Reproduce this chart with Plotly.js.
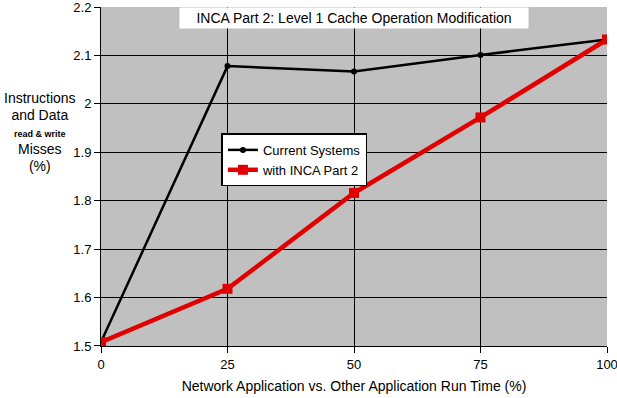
<!DOCTYPE html>
<html><head><meta charset="utf-8">
<script src="https://cdn.plot.ly/plotly-3.0.1.min.js"></script>
<style>body{margin:0;background:#fff}#c{width:617px;height:398px}</style>
</head><body><div id="c"></div>
<script>
var runTime = [0, 25, 50, 75, 100];
var currentSystems = [1.508, 2.078, 2.067, 2.101, 2.133];
var withInca = [1.508, 1.618, 1.816, 1.972, 2.133];
var yTicks = [1.5, 1.6, 1.7, 1.8, 1.9, 2, 2.1, 2.2];
var xTicks = [0, 25, 50, 75, 100];

var F = 'Liberation Sans, Arial, sans-serif';
var traces = [
  {x: runTime, y: currentSystems, mode: 'lines+markers', name: 'Current Systems',
   line: {color: '#000', width: 2.5}, marker: {color: '#000', size: 6, symbol: 'circle'}},
  {x: runTime, y: withInca, mode: 'lines+markers', name: 'with INCA Part 2',
   line: {color: '#e00000', width: 4.5}, marker: {color: '#e00000', size: 10, symbol: 'square'}}
];
var layout = {
  width: 617, height: 398,
  margin: {l: 101, r: 10, t: 7, b: 52},
  paper_bgcolor: '#fff', plot_bgcolor: '#c0c0c0',
  font: {family: F, size: 13, color: '#000'},
  showlegend: true,
  legend: {x: 0.238, y: 0.627, xanchor: 'left', yanchor: 'top', bgcolor: '#fff',
           bordercolor: '#000', borderwidth: 1.5, font: {size: 13},
           tracegroupgap: 0, itemwidth: 30},
  xaxis: {range: [-0.0001, 100.0001], tickvals: xTicks, ticks: 'outside', ticklen: 6, tickcolor: '#000',
          showline: true, linecolor: '#000', linewidth: 1, showgrid: true, gridcolor: '#000',
          gridwidth: 1, zeroline: false, tickfont: {size: 13}, ticklabeloverflow: 'allow',
          automargin: false,
          title: {text: 'Network Application vs. Other Application Run Time (%)', font: {size: 14}, standoff: 10}},
  yaxis: {range: [1.4999, 2.2001], tickvals: yTicks, ticktext: yTicks.map(String), ticks: 'outside', ticklen: 6,
          tickcolor: '#000', showline: true, linecolor: '#000', linewidth: 1, showgrid: true,
          gridcolor: '#000', gridwidth: 1, zeroline: false, tickfont: {size: 13}, ticklabeloverflow: 'allow',
          automargin: false},
  annotations: [
    {xref: 'paper', yref: 'paper', x: 0.5, y: 1, xanchor: 'center', yanchor: 'top', yshift: 0,
     text: 'INCA Part 2: Level 1 Cache Operation Modification', showarrow: false,
     bgcolor: '#fff', borderpad: 2, font: {size: 14}, width: 344},
    {xref: 'paper', yref: 'paper', x: -0.12, y: 0.63, xanchor: 'center', yanchor: 'middle',
     showarrow: false, align: 'center',
     text: '<span style="font-size:14px">Instructions<br>and Data</span><br><span style="font-size:9px"><b>read &amp; write</b></span><br><span style="font-size:14px">Misses<br>(%)</span>'}
  ]
};
Plotly.newPlot('c', traces, layout, {displayModeBar: false});
</script></body></html>
